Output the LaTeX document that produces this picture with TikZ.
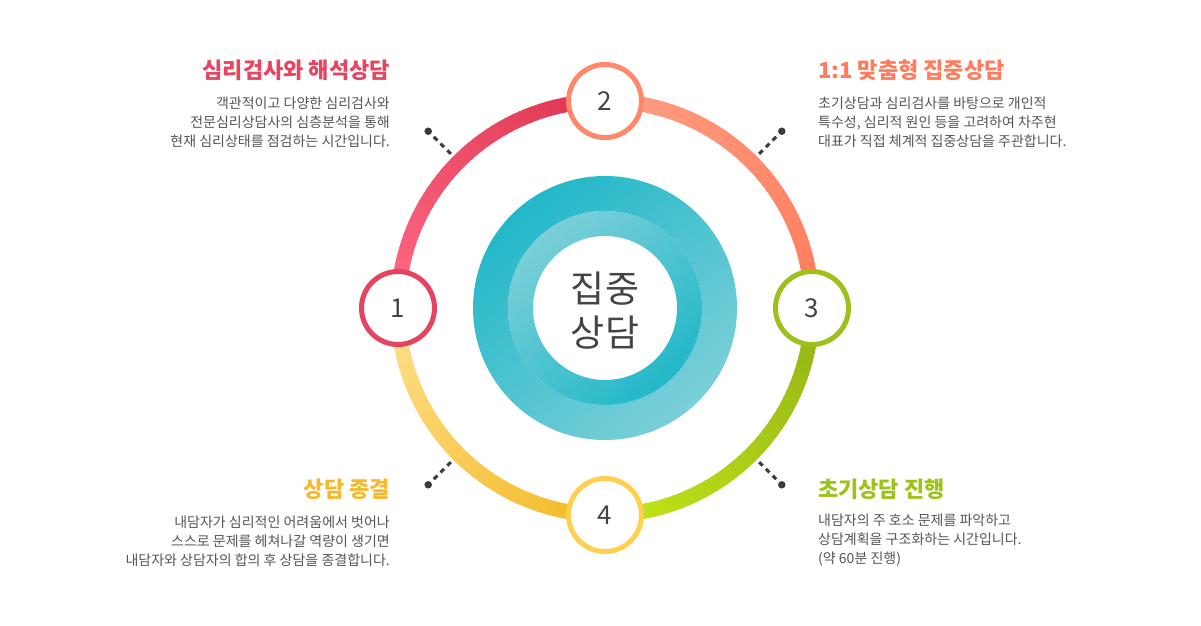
\documentclass[tikz,border=0pt]{standalone}
\usepackage{fontspec}
\setmainfont{Noto Sans CJK KR}
\usetikzlibrary{positioning}

\definecolor{arcA}{HTML}{FF6A85}
\definecolor{arcB}{HTML}{DD3450}
\definecolor{arcC}{HTML}{FF9D82}
\definecolor{arcD}{HTML}{FF7C5C}
\definecolor{arcE}{HTML}{93B217}
\definecolor{arcF}{HTML}{C2E817}
\definecolor{arcG}{HTML}{F4B923}
\definecolor{arcH}{HTML}{FFE08E}
\definecolor{ring1}{HTML}{E5435F}
\definecolor{ring2}{HTML}{FF876A}
\definecolor{ring3}{HTML}{9BC11A}
\definecolor{ring4}{HTML}{FFD04E}
\definecolor{head1}{HTML}{E8435F}
\definecolor{head2}{HTML}{FF7D5E}
\definecolor{head3}{HTML}{F7B92A}
\definecolor{head4}{HTML}{9DC21A}
\definecolor{tealD}{HTML}{22B8C9}
\definecolor{tealL}{HTML}{7BCFD8}
\definecolor{numgray}{HTML}{444444}
\definecolor{bodygray}{HTML}{555555}
\definecolor{dotgray}{HTML}{3A3A3A}

\begin{document}
\begin{tikzpicture}[x=1pt, y=-1pt,
  every node/.style={inner sep=0pt, font=\fontsize{14}{18.8}\selectfont},
  stepnum/.style={circle, draw, line width=5pt, fill=white, minimum size=73pt,
    text=numgray, font=\fontsize{26}{26}\selectfont},
  headline/.style={font=\fontsize{22}{22}\selectfont\bfseries},
  bodytext/.style={text=bodygray},
  dotmark/.style={circle, fill=dotgray, minimum size=7.5pt},
  dashline/.style={draw=dotgray, line width=3pt, dash pattern=on 5pt off 4.5pt, shorten <=4pt}]

  \fill[white] (0,0) rectangle (1201,625);
  \useasboundingbox (0,0) rectangle (1201,625);
  \coordinate (c) at (605,308);

  % teal core
  \shade[even odd rule, top color=tealD, bottom color=tealL, shading angle=40]
    (c) circle[radius=132] (c) circle[radius=97];
  \shade[even odd rule, top color=tealL, bottom color=tealD, shading angle=40]
    (c) circle[radius=97] (c) circle[radius=72];
  \node[font=\fontsize{37}{44}\selectfont, text=numgray, align=center] (core) at (605,311) {집중\\상담};

  % outer ring, one gradient per quarter
  \foreach \a/\ca/\cb in {180/arcA/arcB, 270/arcC/arcD, 360/arcE/arcF, 450/arcG/arcH}{
    \foreach \k in {0,...,44}{
      \pgfmathtruncatemacro\pct{100*\k/44}
      \draw[line width=15pt, draw=\cb!\pct!\ca] (c) ++(\a+2*\k:207)
        arc[start angle=\a+2*\k, end angle=\a+2*\k+2.4, radius=207];
    }
  }

  % dotted pointers
  \foreach \ang [count=\i] in {225,315,45,135}{
    \node[dotmark] (p\i) at ([shift={(\ang:250)}]c) {};
    \coordinate (e\i) at ([shift={(\ang:214)}]c);
    \draw[dashline] (p\i) -- (e\i);
  }

  % step circles
  \node[stepnum, draw=ring1] (n1) at ([shift={(180:207)}]c) {1};
  \node[stepnum, draw=ring2] (n2) at ([shift={(270:207)}]c) {2};
  \node[stepnum, draw=ring3] (n3) at ([shift={(0:207)}]c) {3};
  \node[stepnum, draw=ring4] (n4) at ([shift={(90:207)}]c) {4};

  % texts
  \node[headline, text=head1, anchor=east] (t1) at (390,70) {심리검사와 해석상담};
  \node[bodytext, align=right, anchor=north east] (b1) at (390,97)
    {객관적이고 다양한 심리검사와\\전문심리상담사의 심층분석을 통해\\현재 심리상태를 점검하는 시간입니다.};

  \node[headline, text=head2, anchor=west] (t2) at (818,70) {1:1 맞춤형 집중상담};
  \node[bodytext, align=left, anchor=north west] (b2) at (818,97)
    {초기상담과 심리검사를 바탕으로 개인적\\특수성, 심리적 원인 등을 고려하여 차주현\\대표가 직접 체계적 집중상담을 주관합니다.};

  \node[headline, text=head3, anchor=east] (t3) at (390,489) {상담 종결};
  \node[bodytext, align=right, anchor=north east] (b3) at (390,516)
    {내담자가 심리적인 어려움에서 벗어나\\스스로 문제를 헤쳐나갈 역량이 생기면\\내담자와 상담자의 합의 후 상담을 종결합니다.};

  \node[headline, text=head4, anchor=west] (t4) at (818,489) {초기상담 진행};
  \node[bodytext, align=left, anchor=north west] (b4) at (818,514)
    {내담자의 주 호소 문제를 파악하고\\상담계획을 구조화하는 시간입니다.\\(약 60분 진행)};
\end{tikzpicture}
\end{document}
